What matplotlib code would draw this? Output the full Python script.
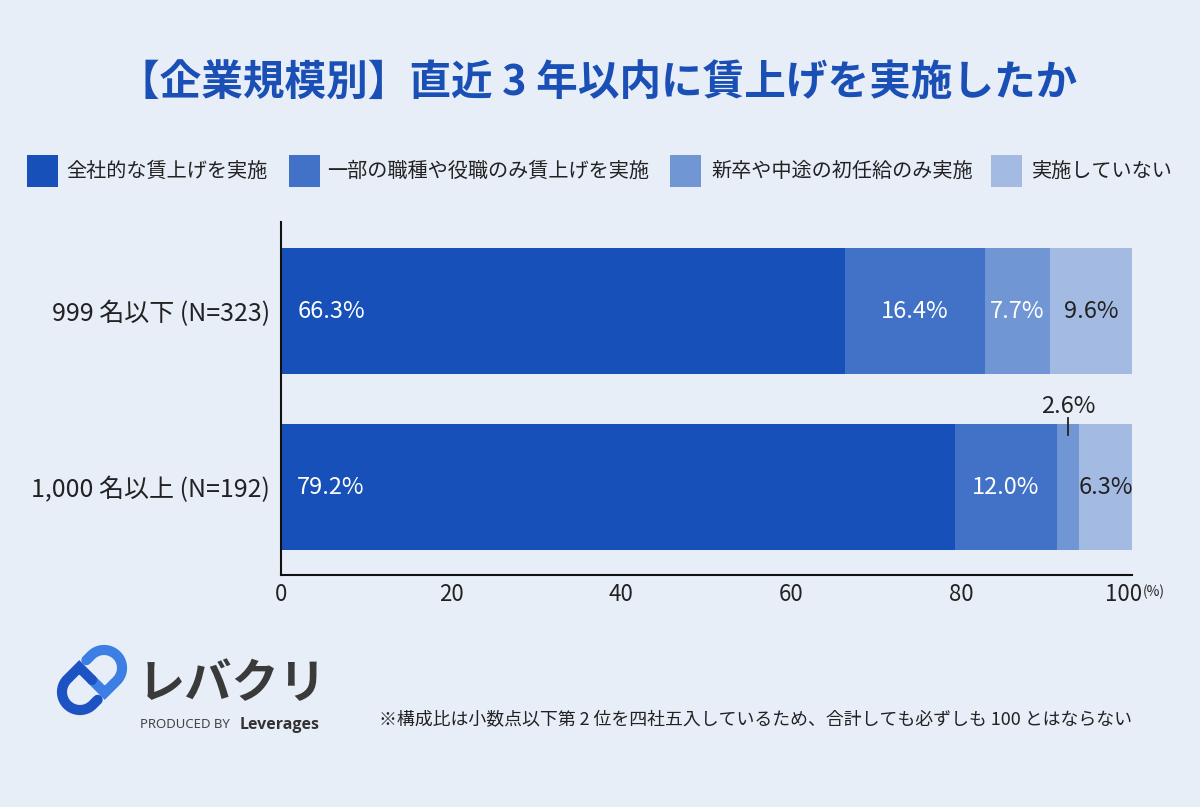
import matplotlib
matplotlib.use('Agg')
import matplotlib.pyplot as plt
import matplotlib.transforms as mtransforms
import numpy as np
from matplotlib.patches import Rectangle

plt.rcParams['font.family'] = ['Noto Sans CJK JP', 'DejaVu Sans']

# ---- data ----
categories = ['999 名以下 (N=323)', '1,000 名以上 (N=192)']
series_names = ['全社的な賃上げを実施', '一部の職種や役職のみ賃上げを実施',
                '新卒や中途の初任給のみ実施', '実施していない']
company_wide = [66.3, 79.2]
partial = [16.4, 12.0]
starting_only = [7.7, 2.6]
not_done = [9.6, 6.3]
xticks = [0, 20, 40, 60, 80, 100]
title = '【企業規模別】直近 3 年以内に賃上げを実施したか'
note = '※構成比は小数点以下第 2 位を四社五入しているため、合計しても必ずしも 100 とはならない'

# ---- style ----
colors = ['#1650B8', '#4272C8', '#7196D4', '#A3BBE3']
bg = '#E8EEF8'
dark = '#222222'
W, H = 1200, 807
fig = plt.figure(figsize=(12, 8.07), dpi=100, facecolor=bg)


def fx(px):
    return px / W


def fy(py):
    return 1 - py / H


ax = fig.add_axes([fx(281), fy(575), fx(1132) - fx(281), (575 - 222) / H])
ax.set_facecolor(bg)
series = [company_wide, partial, starting_only, not_done]
y = np.arange(len(categories))
left = np.zeros(len(categories))
bar_h = 0.716
lab_fs = 17
for si, (vals, c) in enumerate(zip(series, colors)):
    ax.barh(y, vals, left=left, height=bar_h, color=c, edgecolor='none')
    for ri, v in enumerate(vals):
        cx = left[ri] + v / 2
        if si == 0:
            ax.text(left[ri] + 1.9, ri, f'{v:.1f}%', ha='left', va='center',
                    fontsize=lab_fs, color='white')
        elif v < 5:
            ax.text(cx, ri - 0.46, f'{v:.1f}%', ha='center', va='center',
                    fontsize=lab_fs, color=dark)
            ax.plot([cx, cx], [ri - 0.392, ri - 0.295], color=dark, lw=1.3)
        else:
            col = dark if si == 3 else 'white'
            ax.text(cx, ri, f'{v:.1f}%', ha='center', va='center',
                    fontsize=lab_fs, color=col)
    left += np.array(vals)

ax.set_xlim(0, 100)
ax.set_ylim(1.5, -0.506)
ax.set_yticks(y, categories)
ax.set_xticks(xticks, [str(t) for t in xticks])
ax.tick_params(axis='y', length=0, pad=8, labelsize=18, labelcolor=dark)
ax.tick_params(axis='x', length=0, pad=6, labelsize=16, labelcolor=dark)
last = ax.get_xticklabels()[-1]
last.set_transform(last.get_transform() +
                   mtransforms.ScaledTranslation(-0.08, 0, fig.dpi_scale_trans))
for s in ['top', 'right']:
    ax.spines[s].set_visible(False)
for s in ['left', 'bottom']:
    ax.spines[s].set_color('#111111')
    ax.spines[s].set_linewidth(1.5)
fig.text(fx(1143), fy(592), '(%)', fontsize=10, color=dark, ha='left', va='center')

# ---- title ----
fig.text(fx(598), fy(83), title, ha='center', va='center', fontsize=30,
         fontweight='bold', color='#1A4FB5')

# ---- legend ----
leg_sq = [27, 289, 670, 991]
leg_tx = [66, 327, 711, 1032]
for name, c, sx, tx in zip(series_names, colors, leg_sq, leg_tx):
    fig.add_artist(Rectangle((fx(sx), fy(187)), 31 / W, 32 / H,
                             transform=fig.transFigure, color=c, lw=0))
    fig.text(fx(tx), fy(171), name, ha='left', va='center', fontsize=14.5, color=dark)

# ---- logo ----
lax = fig.add_axes([fx(45), fy(725), 95 / W, 95 / H])
lax.set_xlim(45, 140)
lax.set_ylim(725, 630)
lax.axis('off')
c0 = np.array([92.0, 680.0])
d = np.array([0.7071, -0.7071])
n = np.array([-0.7071, -0.7071])
h, r = 17.0, 18.0
e1 = c0 + h * d
e2 = c0 - h * d
half1 = []
for t in np.linspace(10, h, 6):
    half1.append(c0 + t * d + r * n)
for phi in np.linspace(0, np.pi, 40):
    half1.append(e1 + r * (np.cos(phi) * n + np.sin(phi) * d))
for t in np.linspace(h, 0, 8):
    half1.append(c0 + t * d - r * n)
half1.append(c0)
half1 = np.array(half1)
half2 = 2 * c0 - half1
lax.plot(half1[:, 0], half1[:, 1], color='#3C7EE4', lw=7.3,
         solid_capstyle='round', solid_joinstyle='miter')
lax.plot(half2[:, 0], half2[:, 1], color='#1D52C3', lw=7.3,
         solid_capstyle='round', solid_joinstyle='miter')

fig.text(fx(138), fy(684), 'レバクリ', ha='left', va='center', fontsize=34,
         fontweight='bold', color='#3A3A3A')
fig.text(fx(140), fy(725), 'PRODUCED BY', ha='left', va='center', fontsize=9.5,
         color='#444444', family=['Noto Sans', 'DejaVu Sans'])
fig.text(fx(240), fy(725), 'Leverages', ha='left', va='center', fontsize=11.5,
         fontweight='bold', color='#333333', family=['Open Sans', 'DejaVu Sans'])

# ---- footnote ----
fig.text(fx(1132), fy(720), note, ha='right', va='center', fontsize=12.9, color=dark)

fig.savefig('out.png', dpi=100, facecolor=bg)
